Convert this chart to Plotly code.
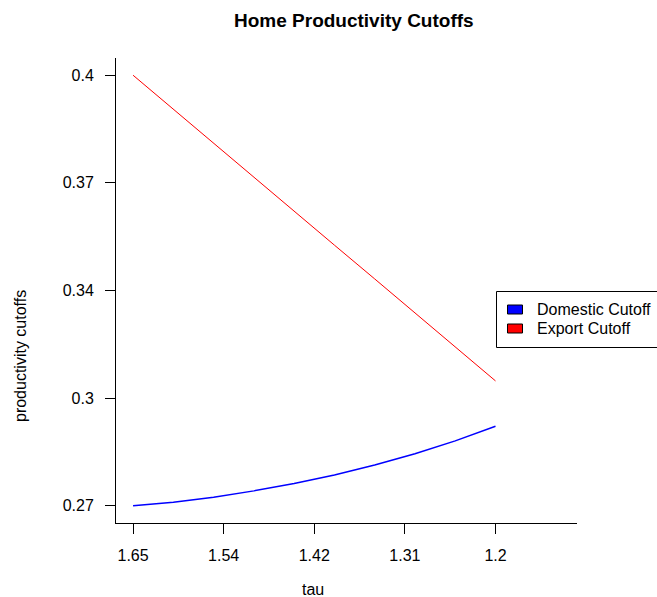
import plotly.graph_objects as go

# Data
tau = [1.65, 1.60, 1.55, 1.50, 1.45, 1.40, 1.35, 1.30, 1.25, 1.20]
domestic_cutoff = [0.2700, 0.2711, 0.2726, 0.2745, 0.2767, 0.2793, 0.2823, 0.2857, 0.2896, 0.2940]
export_cutoff = [0.4000, 0.3897, 0.3795, 0.3692, 0.3590, 0.3487, 0.3385, 0.3282, 0.3180, 0.3077]

x_tick_vals = [1.65, 1.5375, 1.425, 1.3125, 1.2]
x_tick_text = ["1.65", "1.54", "1.42", "1.31", "1.2"]
y_tick_vals = [0.27, 0.3025, 0.335, 0.3675, 0.4]
y_tick_text = ["0.27", "0.3", "0.34", "0.37", "0.4"]

series_names = ["Domestic Cutoff", "Export Cutoff"]
series_colors = ["#0000FF", "#FF0000"]

FONT = "Liberation Sans, Arial, Helvetica, sans-serif"

fig = go.Figure()
fig.add_trace(go.Scatter(x=tau, y=domestic_cutoff, mode="lines",
                         line=dict(color=series_colors[0], width=1.5),
                         name=series_names[0]))
fig.add_trace(go.Scatter(x=tau, y=export_cutoff, mode="lines",
                         line=dict(color=series_colors[1], width=1),
                         name=series_names[1]))

W, H = 657, 597
# plot-area edges in page pixels
X0, X1, Y0, Y1 = 116, 577, 58, 523
L, R, T, B = X0, W - X1, Y0, H - Y1
pw = X1 - X0
ph = Y1 - Y0

def px(x):
    return (x - X0) / pw

def py(y):
    return (Y1 - y) / ph

shapes = [
    # legend frame (R-style, runs off the right edge)
    dict(type="rect", xref="paper", yref="paper",
         x0=px(496.5), x1=px(665), y0=py(291.5), y1=py(347.5),
         line=dict(color="black", width=1), fillcolor="white", layer="above"),
]
annotations = [
    dict(text="<b>Home Productivity Cutoffs</b>", xref="paper", yref="paper",
         x=px(353.5), y=py(21), xanchor="center", yanchor="middle",
         showarrow=False, font=dict(size=19, color="black")),
    dict(text="tau", xref="paper", yref="paper", x=px(313), y=py(589),
         xanchor="center", yanchor="middle", showarrow=False,
         font=dict(size=16, color="black")),
    dict(text="productivity cutoffs", xref="paper", yref="paper",
         x=px(20), y=py(356), xanchor="center", yanchor="middle",
         textangle=-90, showarrow=False, font=dict(size=16, color="black")),
]
row_y = [309.5, 328.5]
for nm, col, ry in zip(series_names, series_colors, row_y):
    shapes.append(dict(type="rect", xref="paper", yref="paper",
                       x0=px(507.5), x1=px(522.5), y0=py(ry + 4.5), y1=py(ry - 4.5),
                       line=dict(color="black", width=1), fillcolor=col, layer="above"))
    annotations.append(dict(text=nm, xref="paper", yref="paper",
                            x=px(535), y=py(ry), xanchor="left", yanchor="middle",
                            showarrow=False, font=dict(size=16, color="black")))

fig.update_layout(
    width=W, height=H,
    margin=dict(l=L, r=R, t=T, b=B, pad=0),
    paper_bgcolor="white", plot_bgcolor="white",
    font=dict(family=FONT, size=16, color="black"),
    showlegend=False,
    hovermode=False,
    xaxis=dict(range=[1.6712, 1.0988], tickmode="array", tickvals=x_tick_vals,
               ticktext=x_tick_text, ticks="outside", ticklen=10, tickwidth=1,
               tickcolor="black", showline=True, linecolor="black", linewidth=1,
               showgrid=False, zeroline=False, ticklabelstandoff=8,
               automargin=False, tickfont=dict(size=16, color="black")),
    yaxis=dict(range=[0.2648, 0.4052], tickmode="array", tickvals=y_tick_vals,
               ticktext=y_tick_text, ticks="outside", ticklen=10, tickwidth=1,
               tickcolor="black", showline=True, linecolor="black", linewidth=1,
               showgrid=False, zeroline=False, ticklabelstandoff=8,
               automargin=False, tickfont=dict(size=16, color="black")),
    shapes=shapes,
    annotations=annotations,
)

fig.write_html(
    "out.html",
    config={"displayModeBar": False, "staticPlot": True},
    post_script=("document.documentElement.style.margin='0';"
                 "document.documentElement.style.overflow='hidden';"
                 "document.body.style.margin='0';"
                 "document.body.style.overflow='hidden';"),
)
